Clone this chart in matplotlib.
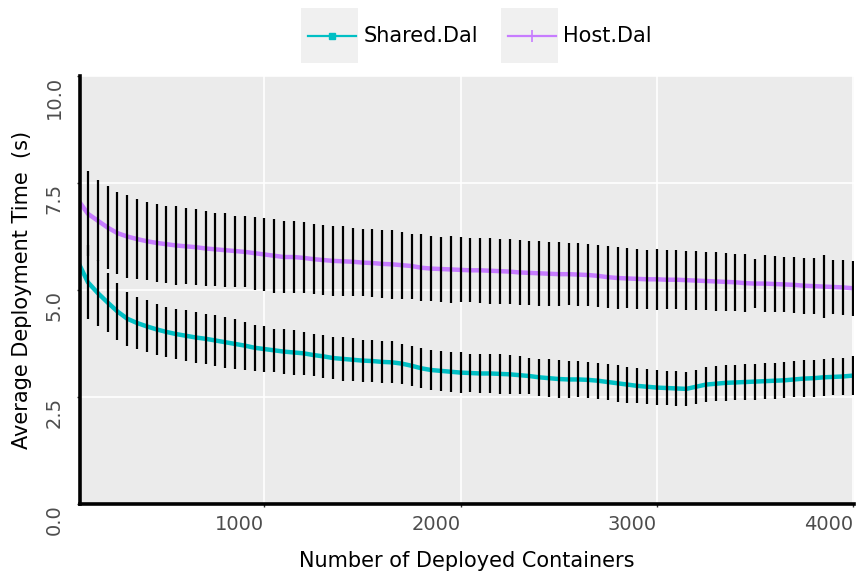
import numpy as np
import matplotlib
matplotlib.use("Agg")
import matplotlib.pyplot as plt
from matplotlib.lines import Line2D
from matplotlib.patches import Rectangle
from matplotlib.legend_handler import HandlerBase

# number of deployed containers, one point every 50
containers = np.arange(50, 4001, 50)

host_mean = [
    7.10, 6.78, 6.62, 6.46, 6.33, 6.25, 6.19, 6.14, 6.10, 6.07,
    6.04, 6.02, 6.00, 5.97, 5.95, 5.93, 5.91, 5.89, 5.86, 5.83,
    5.80, 5.77, 5.77, 5.75, 5.72, 5.70, 5.68, 5.67, 5.66, 5.64,
    5.63, 5.61, 5.60, 5.58, 5.56, 5.52, 5.50, 5.49, 5.48, 5.47,
    5.46, 5.46, 5.45, 5.44, 5.43, 5.41, 5.40, 5.39, 5.38, 5.37,
    5.37, 5.36, 5.35, 5.33, 5.30, 5.28, 5.27, 5.26, 5.25, 5.25,
    5.24, 5.24, 5.23, 5.22, 5.21, 5.20, 5.19, 5.18, 5.16, 5.15,
    5.15, 5.14, 5.13, 5.12, 5.10, 5.09, 5.08, 5.07, 5.06, 5.04,
]
host_err = [
    1.00, 0.99, 0.95, 0.97, 0.96, 0.98, 0.94, 0.91, 0.92, 0.90,
    0.92, 0.89, 0.89, 0.87, 0.86, 0.86, 0.83, 0.83, 0.85, 0.85,
    0.87, 0.85, 0.84, 0.83, 0.82, 0.81, 0.81, 0.82, 0.79, 0.78,
    0.79, 0.79, 0.80, 0.78, 0.76, 0.78, 0.76, 0.76, 0.78, 0.76,
    0.75, 0.76, 0.77, 0.76, 0.75, 0.76, 0.74, 0.76, 0.75, 0.74,
    0.73, 0.73, 0.73, 0.72, 0.72, 0.72, 0.70, 0.70, 0.69, 0.71,
    0.69, 0.69, 0.69, 0.68, 0.68, 0.68, 0.67, 0.67, 0.67, 0.57,
    0.66, 0.65, 0.65, 0.65, 0.65, 0.65, 0.74, 0.64, 0.65, 0.64,
]
shared_mean = [
    5.65, 5.18, 4.93, 4.71, 4.50, 4.33, 4.23, 4.15, 4.08, 4.02,
    3.97, 3.93, 3.89, 3.86, 3.82, 3.78, 3.74, 3.70, 3.65, 3.62,
    3.59, 3.56, 3.54, 3.52, 3.48, 3.45, 3.41, 3.39, 3.37, 3.35,
    3.34, 3.32, 3.31, 3.28, 3.23, 3.17, 3.13, 3.11, 3.09, 3.07,
    3.06, 3.05, 3.05, 3.04, 3.03, 3.01, 2.99, 2.96, 2.94, 2.92,
    2.91, 2.91, 2.90, 2.88, 2.85, 2.82, 2.79, 2.76, 2.74, 2.72,
    2.71, 2.70, 2.69, 2.74, 2.79, 2.81, 2.83, 2.84, 2.85, 2.86,
    2.87, 2.88, 2.89, 2.91, 2.93, 2.94, 2.96, 2.97, 2.98, 3.00,
]
shared_err = [
    0.90, 0.86, 0.78, 0.68, 0.66, 0.63, 0.61, 0.61, 0.59, 0.58,
    0.59, 0.60, 0.59, 0.59, 0.59, 0.60, 0.59, 0.56, 0.54, 0.54,
    0.51, 0.53, 0.52, 0.51, 0.50, 0.51, 0.50, 0.51, 0.50, 0.49,
    0.49, 0.49, 0.49, 0.47, 0.47, 0.47, 0.47, 0.46, 0.47, 0.47,
    0.45, 0.46, 0.46, 0.46, 0.45, 0.45, 0.43, 0.43, 0.44, 0.44,
    0.43, 0.42, 0.42, 0.42, 0.43, 0.43, 0.42, 0.41, 0.41, 0.40,
    0.40, 0.40, 0.40, 0.40, 0.41, 0.41, 0.42, 0.41, 0.42, 0.42,
    0.42, 0.42, 0.42, 0.42, 0.43, 0.43, 0.43, 0.43, 0.44, 0.45,
]

x_ticks = [1000, 2000, 3000, 4000]
y_ticks = [0.0, 2.5, 5.0, 7.5, 10.0]
y_tick_labels = ["0.0", "2.5", "5.0", "7.5", "10.0"]

shared_color = "#00BFC4"
host_color = "#C77CFF"


class BoxedKey(HandlerBase):
    # ggplot style legend key: grey square, line and marker centred in it
    def create_artists(self, legend, orig_handle, xdescent, ydescent,
                       width, height, fontsize, trans):
        box = Rectangle((-xdescent, -ydescent), width, height,
                        facecolor="#F0F0F0", edgecolor="none", transform=trans)
        yc = -ydescent + height / 2
        pad = 0.12 * width
        line = Line2D([-xdescent + pad, -xdescent + width - 0.04 * width], [yc, yc],
                      color=orig_handle.get_color(),
                      lw=orig_handle.get_linewidth(), transform=trans)
        mark = Line2D([-xdescent + width * 0.55], [yc],
                      color=orig_handle.get_color(),
                      marker=orig_handle.get_marker(),
                      markersize=orig_handle.get_markersize(),
                      markeredgewidth=orig_handle.get_markeredgewidth(),
                      linestyle="none", transform=trans)
        return [box, line, mark]


fig = plt.figure(figsize=(8.57, 5.77), dpi=100)
ax = fig.add_axes([79.5 / 857, 1 - 504 / 577, 774.5 / 857, 428 / 577])
ax.set_facecolor("#EBEBEB")

ax.plot(containers, shared_mean, color=shared_color, lw=3.2, zorder=2)
ax.plot(containers, host_mean, color=host_color, lw=3.2, zorder=2)
ax.errorbar(containers, shared_mean, yerr=shared_err, fmt="none",
            ecolor="black", elinewidth=1.6, capsize=0, zorder=3)
ax.errorbar(containers, host_mean, yerr=host_err, fmt="none",
            ecolor="black", elinewidth=1.6, capsize=0, zorder=3)

ax.set_xlim(57, 4005)
ax.set_ylim(0, 10)
ax.set_xticks(x_ticks)
ax.set_xticklabels([str(t) for t in x_ticks], ha="right")
ax.set_yticks(y_ticks)
ax.set_yticklabels(y_tick_labels, rotation=90, va="top")

ax.grid(True, color="white", lw=1.2)
ax.set_axisbelow(True)
for side in ["top", "right"]:
    ax.spines[side].set_visible(False)
for side in ["left", "bottom"]:
    ax.spines[side].set_linewidth(2.6)
    ax.spines[side].set_color("black")

ax.tick_params(axis="x", length=2.5, width=1, color="#333333",
               labelsize=14, labelcolor="#4D4D4D", pad=5.5)
ax.tick_params(axis="y", length=2.5, width=1, color="#333333",
               labelsize=14, labelcolor="#4D4D4D", pad=9)

ax.set_xlabel("Number of Deployed Containers", fontsize=15, va="center")
ax.set_ylabel("Average Deployment Time  (s)", fontsize=15, va="center")
ax.xaxis.set_label_coords(0.5, -0.134)
ax.yaxis.set_label_coords(-0.074, 0.5)

handles = [
    Line2D([], [], color=shared_color, lw=1.6, marker="s", markersize=5),
    Line2D([], [], color=host_color, lw=1.6, marker="+", markersize=9,
           markeredgewidth=1.2),
]
fig.legend(handles, ["Shared.Dal", "Host.Dal"], loc="center",
           bbox_to_anchor=(0.556, 0.938), ncol=2, frameon=False,
           fontsize=15, handlelength=2.75, handleheight=3.68,
           handletextpad=0.25, columnspacing=1.1, borderpad=0,
           handler_map={Line2D: BoxedKey()})

fig.savefig("out.png", dpi=100)
